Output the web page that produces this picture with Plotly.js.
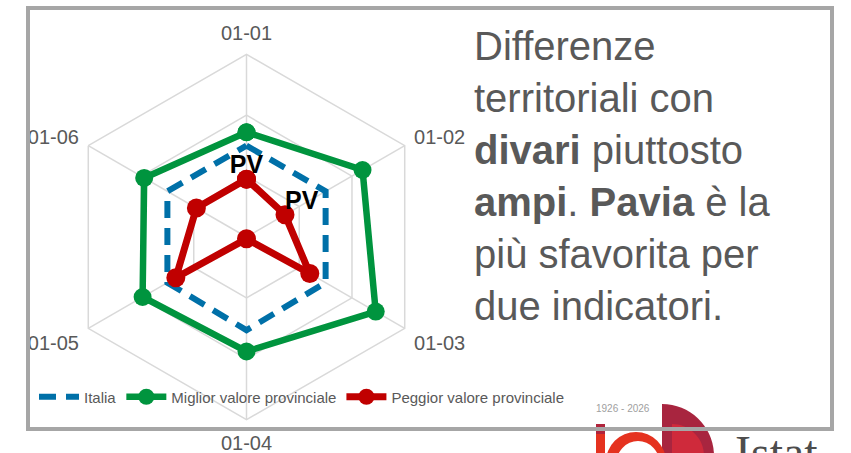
<!DOCTYPE html>
<html>
<head>
<meta charset="utf-8">
<script src="https://cdn.plot.ly/plotly-3.0.1.min.js"></script>
<style>
  html, body { margin: 0; padding: 0; background: #ffffff; }
  #chart { width: 851px; height: 453px; }
</style>
</head>
<body>
<div id="chart"></div>
<script>
// ---- Data ----
const categories = ['01-01', '01-02', '01-03', '01-04', '01-05', '01-06'];
const italia   = [1.50, 1.50, 1.50, 1.53, 1.50, 1.50];
const miglior  = [1.72, 2.20, 2.45, 1.88, 1.97, 1.94];
const peggior  = [0.95, 0.73, 1.20, 0.03, 1.34, 0.95];
const peggiorLabels = ['PV', 'PV', '', '', '', ''];
const seriesNames = ['Italia', 'Miglior valore provinciale', 'Peggior valore provinciale'];
const headline = 'Differenze<br>territoriali con<br><b>divari</b> piuttosto<br><b>ampi</b>. <b>Pavia</b> è la<br>più sfavorita per<br>due indicatori.';

// ---- Helpers ----
const W = 851, H = 453;
const px = x => x / W;
const py = y => 1 - y / H;
const loop = a => a.concat([a[0]]);
const SANS = '"Liberation Sans", Arial, sans-serif';

function quarter(cx, cy, r) {
  const k = 0.5523 * r;
  return 'M' + px(cx) + ',' + py(cy - r) + ' C' + px(cx + k) + ',' + py(cy - r) + ' ' + px(cx + r) + ',' + py(cy - k) + ' ' + px(cx + r) + ',' + py(cy) + ' L' + px(cx) + ',' + py(cy) + ' Z';
}

const theta = loop(categories);

const traces = [
  {
    type: 'scatterpolar', name: seriesNames[0],
    r: loop(italia), theta: theta, mode: 'lines',
    line: { color: '#0070a8', width: 6, dash: '17px,10px' }
  },
  {
    type: 'scatterpolar', name: seriesNames[1],
    r: loop(miglior), theta: theta, mode: 'lines+markers',
    line: { color: '#00943e', width: 6.5 },
    marker: { color: '#00943e', size: 18 }
  },
  {
    type: 'scatterpolar', name: seriesNames[2],
    r: loop(peggior), theta: theta, mode: 'lines+markers',
    line: { color: '#c00000', width: 7 },
    marker: { color: '#c00000', size: 19 }
  },
  {
    type: 'scatterpolar', name: 'labels', showlegend: false,
    r: peggior, theta: categories, mode: 'text',
    text: peggiorLabels.map(t => t ? '<b>' + t + '</b>' : ''),
    textposition: ['top center', 'top right', 'top center', 'top center', 'top center', 'top center'],
    textfont: { family: SANS, size: 25, color: '#000000' }
  }
];

const layout = {
  width: W, height: H,
  margin: { l: 0, r: 0, t: 0, b: 0 },
  paper_bgcolor: '#ffffff',
  showlegend: true,
  legend: {
    orientation: 'h', x: px(34), xanchor: 'left', y: py(397), yanchor: 'middle',
    font: { family: SANS, size: 15, color: '#595959' },
    bgcolor: 'rgba(0,0,0,0)', itemwidth: 40
  },
  polar: {
    domain: { x: [px(246.5 - 182.7), px(246.5 + 182.7)], y: [py(237 + 182.7), py(237 - 182.7)] },
    bgcolor: 'rgba(0,0,0,0)',
    gridshape: 'linear',
    radialaxis: {
      range: [0, 3], dtick: 1, showticklabels: false, ticks: '', showline: false,
      gridcolor: '#d9d9d9', gridwidth: 1.5
    },
    angularaxis: {
      type: 'category', rotation: 90, direction: 'clockwise',
      ticks: 'outside', ticklen: 6, tickcolor: 'rgba(0,0,0,0)',
      gridcolor: '#d9d9d9', gridwidth: 1.5,
      linecolor: '#d9d9d9', linewidth: 1.5,
      tickfont: { family: SANS, size: 20, color: '#595959' }
    }
  },
  shapes: [
    { type: 'path', xref: 'paper', yref: 'paper', layer: 'below', path: quarter(662, 456, 52), fillcolor: '#a8253f', line: { width: 0 } },
    { type: 'path', xref: 'paper', yref: 'paper', layer: 'below', path: quarter(672, 456, 32), fillcolor: '#cf2a3b', line: { width: 0 } },
    { type: 'circle', xref: 'paper', yref: 'paper', layer: 'below', x0: px(606), x1: px(666), y0: py(492), y1: py(432), fillcolor: '#e5321f', line: { width: 0 } },
    { type: 'circle', xref: 'paper', yref: 'paper', layer: 'below', x0: px(616), x1: px(660), y0: py(488), y1: py(441), fillcolor: '#ffffff', line: { width: 0 } },
    { type: 'rect', xref: 'paper', yref: 'paper', layer: 'below', x0: px(596), x1: px(605), y0: py(453), y1: py(424), fillcolor: '#b0243c', line: { width: 0 } },
    { type: 'rect', xref: 'paper', yref: 'paper', layer: 'below', x0: px(596), x1: px(605), y0: py(453), y1: py(434), fillcolor: '#e5321f', line: { width: 0 } },
    { type: 'rect', xref: 'paper', yref: 'paper', x0: px(28), x1: px(832), y0: py(429), y1: py(8), line: { color: '#a6a6a6', width: 4 }, fillcolor: 'rgba(0,0,0,0)' }
  ],
  annotations: [
    {
      xref: 'paper', yref: 'paper', x: px(472), y: py(176), xanchor: 'left', yanchor: 'middle',
      align: 'left', showarrow: false, text: headline,
      font: { family: SANS, size: 40, color: '#595959' }
    },
    {
      xref: 'paper', yref: 'paper', x: px(594), y: py(408), xanchor: 'left', yanchor: 'middle',
      showarrow: false, text: '1926 - 2026',
      font: { family: SANS, size: 10, color: '#a0a0a0' }
    },
    {
      xref: 'paper', yref: 'paper', x: px(733), y: py(424), xanchor: 'left', yanchor: 'top',
      showarrow: false, text: 'Istat',
      font: { family: '"Liberation Serif", serif', size: 48, color: '#4d4d4d' }
    }
  ]
};

Plotly.newPlot('chart', traces, layout, { displayModeBar: false, staticPlot: true });
</script>
</body>
</html>
